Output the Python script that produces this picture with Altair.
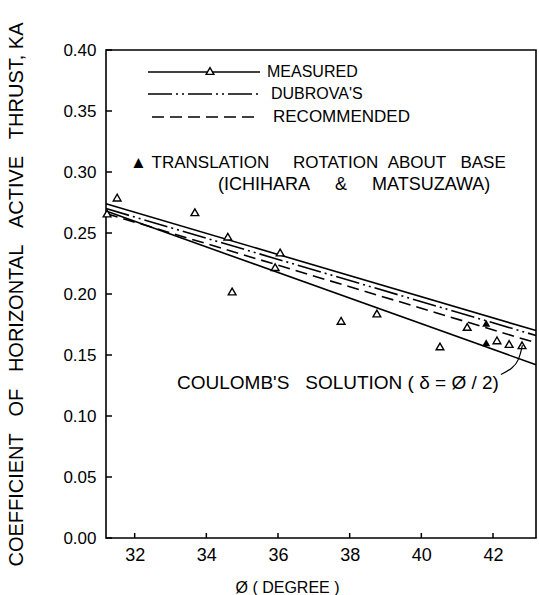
import altair as alt
import pandas as pd

# ---- data ----
phi_edges = [31.2, 43.2]
measured_line = [0.274, 0.170]
dubrova_line = [0.270, 0.166]
recommended_line = [0.266, 0.160]
coulomb_line = [0.268, 0.142]

meas_phi = [31.23, 31.51, 33.68, 34.60, 34.72, 35.92, 36.06, 37.76, 38.76, 40.52, 41.28, 42.11, 42.45, 42.81]
meas_k = [0.266, 0.279, 0.267, 0.247, 0.202, 0.222, 0.234, 0.178, 0.184, 0.157, 0.173, 0.162, 0.159, 0.158]

ichi_phi = [41.81, 41.81]
ichi_k = [0.176, 0.160]

pointer_phi = [42.22, 42.55, 42.73, 42.82]
pointer_k = [0.134, 0.139, 0.146, 0.158]

x_ticks = [32, 34, 36, 38, 40, 42]
y_ticks = [0.0, 0.05, 0.10, 0.15, 0.20, 0.25, 0.30, 0.35, 0.40]

FONT = "Liberation Sans"
W, H = 430, 488
NB = "\u00a0"

xs = alt.Scale(domain=[31.2, 43.2], nice=False, zero=False)
ys = alt.Scale(domain=[0, 0.40], nice=False)

def line_df(vals):
    return pd.DataFrame({"phi": phi_edges, "k": vals})

ytitle = (NB * 3).join(["COEFFICIENT", "OF", "HORIZONTAL", "ACTIVE", "THRUST, KA"])

xenc = alt.X("phi:Q", scale=xs,
             axis=alt.Axis(values=x_ticks, title=f"Ø{NB}({NB}DEGREE{NB})", ticks=False, domain=False,
                           grid=False, labelFontSize=18, labelFont=FONT, labelPadding=8,
                           labelColor="black", titleFont=FONT, titleFontSize=16,
                           titleFontWeight="normal", titleColor="black",
                           titleX=181, titleAlign="center",
                           titleY=49, titleBaseline="middle"))
yenc = alt.Y("k:Q", scale=ys,
             axis=alt.Axis(values=y_ticks, format=".2f", ticks=False, domain=False, grid=False,
                           labelFontSize=17, labelFont=FONT, labelPadding=10,
                           labelColor="black",
                           title=ytitle,
                           titleFont=FONT, titleFontSize=20, titleFontWeight="normal",
                           titleColor="black", titleX=-90, titleBaseline="middle"))

base_lines = []
base_lines.append(alt.Chart(line_df(measured_line)).mark_line(color="black", strokeWidth=1.6)
                  .encode(x=xenc, y=yenc))
base_lines.append(alt.Chart(line_df(dubrova_line)).mark_line(color="black", strokeWidth=1.6,
                  strokeDash=[24, 4, 2, 4, 2, 4]).encode(x="phi:Q", y="k:Q"))
base_lines.append(alt.Chart(line_df(recommended_line)).mark_line(color="black", strokeWidth=1.6,
                  strokeDash=[12, 6]).encode(x="phi:Q", y="k:Q"))
base_lines.append(alt.Chart(line_df(coulomb_line)).mark_line(color="black", strokeWidth=1.6)
                  .encode(x="phi:Q", y="k:Q"))

meas_pts = alt.Chart(pd.DataFrame({"phi": meas_phi, "k": meas_k})).mark_point(
    shape="triangle-up", size=60, filled=True, fill="white", stroke="black", strokeWidth=1.4,
    opacity=1).encode(x="phi:Q", y="k:Q")
ichi_pts = alt.Chart(pd.DataFrame({"phi": ichi_phi, "k": ichi_k})).mark_point(
    shape="triangle-up", size=65, filled=True, color="black", opacity=1).encode(x="phi:Q", y="k:Q")

pointer = alt.Chart(pd.DataFrame({"phi": pointer_phi, "k": pointer_k})).mark_line(
    color="black", strokeWidth=1.2, interpolate="basis").encode(x="phi:Q", y="k:Q")

# inward ticks
ytick_rules = alt.Chart(pd.DataFrame({"k": y_ticks})).mark_rule(color="black", strokeWidth=1.5).encode(
    y="k:Q", x=alt.value(0), x2=alt.value(6))
xtick_rules = alt.Chart(pd.DataFrame({"phi": x_ticks})).mark_rule(color="black", strokeWidth=1.5).encode(
    x="phi:Q", y=alt.value(H), y2=alt.value(H - 5))

# legend (annotation)
dummy = pd.DataFrame({"a": [0]})
leg = []
leg.append(alt.Chart(dummy).mark_rule(color="black", strokeWidth=1.6).encode(
    x=alt.value(42), x2=alt.value(154), y=alt.value(22)))
leg.append(alt.Chart(dummy).mark_point(shape="triangle-up", size=60, filled=True, fill="white",
    stroke="black", strokeWidth=1.4, opacity=1).encode(x=alt.value(104), y=alt.value(21)))
leg.append(alt.Chart(dummy).mark_rule(color="black", strokeWidth=1.6,
    strokeDash=[24, 4, 2, 4, 2, 4]).encode(x=alt.value(42), x2=alt.value(152), y=alt.value(44)))
leg.append(alt.Chart(dummy).mark_rule(color="black", strokeWidth=1.6,
    strokeDash=[12, 6]).encode(x=alt.value(46), x2=alt.value(152), y=alt.value(67)))

def txt(s, x, y, size=16):
    return alt.Chart(dummy).mark_text(text=s, align="left", baseline="middle", font=FONT,
                                      fontSize=size, color="black").encode(
        x=alt.value(x), y=alt.value(y))

leg.append(txt("MEASURED", 161, 22, 16))
leg.append(txt("DUBROVA'S", 165, 44, 16))
leg.append(txt("RECOMMENDED", 167, 67, 17))
leg.append(txt(f"▲{NB}TRANSLATION{NB*5}ROTATION{NB*2}ABOUT{NB*3}BASE", 24, 113, 17))
leg.append(txt(f"(ICHIHARA{NB*5}&{NB*5}MATSUZAWA)", 112, 135, 18))
leg.append(txt(f"COULOMB'S{NB*3}SOLUTION{NB}({NB}δ{NB}={NB}Ø{NB}/{NB}2)", 71, 333, 19))

chart = alt.layer(*base_lines, meas_pts, ichi_pts, pointer, ytick_rules, xtick_rules, *leg).properties(
    width=W, height=H,
    autosize=alt.AutoSizeParams(type="none"),
    padding={"left": 106, "top": 50, "right": 3, "bottom": 57},
    background="white",
).configure_view(stroke="black", strokeWidth=1.6)

chart.save("out.html", embed_options={"renderer": "svg", "actions": False})
